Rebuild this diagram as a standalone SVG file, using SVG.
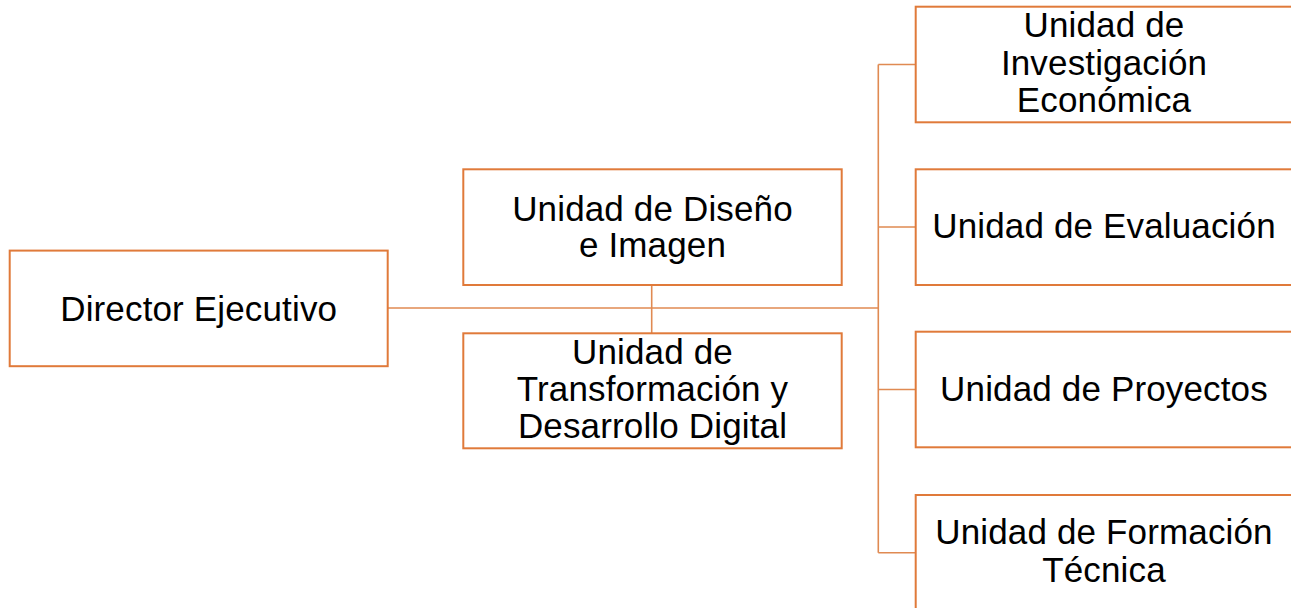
<svg xmlns="http://www.w3.org/2000/svg" width="1291" height="608" viewBox="0 0 1291 608">
<style>
.box{fill:#fff;stroke:#E07A3A;stroke-width:2}
.ln{fill:none;stroke:#E08A52;stroke-width:1.6}
text{font-family:"Liberation Sans",Arial,sans-serif;font-size:35px;fill:#000;text-anchor:middle;letter-spacing:0.15px}
</style>
<rect width="1291" height="608" fill="#fff"/>
<g id="connectors">
<path class="ln" d="M387.7 308H878.3"/>
<path class="ln" d="M651.7 285V333.3"/>
<path class="ln" d="M878.3 64.5V552.8"/>
<path class="ln" d="M878.3 64.5H915.7M878.3 227H915.7M878.3 389.5H915.7M878.3 552.8H915.7"/>
</g>
<g id="director">
<rect class="box" x="9.7" y="250.6" width="378" height="115.6"/>
<text x="198.7" y="320.5">Director Ejecutivo</text>
</g>
<g id="diseno">
<rect class="box" x="463.3" y="169.3" width="378.4" height="115.7"/>
<text x="652.5" y="220.5">Unidad de Diseño</text>
<text x="652.5" y="257">e Imagen</text>
</g>
<g id="transformacion">
<rect class="box" x="463.3" y="333.3" width="378.4" height="115"/>
<text x="652.5" y="364">Unidad de</text>
<text x="652.5" y="401">Transformación y</text>
<text x="652.5" y="438">Desarrollo Digital</text>
</g>
<g id="investigacion">
<rect class="box" x="915.7" y="6.7" width="378" height="115.6"/>
<text x="1104" y="37">Unidad de</text>
<text x="1104" y="74.5">Investigación</text>
<text x="1104" y="111.5">Económica</text>
</g>
<g id="evaluacion">
<rect class="box" x="915.7" y="169.3" width="378" height="115.7"/>
<text x="1104" y="237.5">Unidad de Evaluación</text>
</g>
<g id="proyectos">
<rect class="box" x="915.7" y="331.7" width="378" height="115.6"/>
<text x="1104" y="400.5">Unidad de Proyectos</text>
</g>
<g id="formacion">
<rect class="box" x="915.7" y="495" width="378" height="116"/>
<text x="1104" y="543.5">Unidad de Formación</text>
<text x="1104" y="581.5">Técnica</text>
</g>
</svg>
